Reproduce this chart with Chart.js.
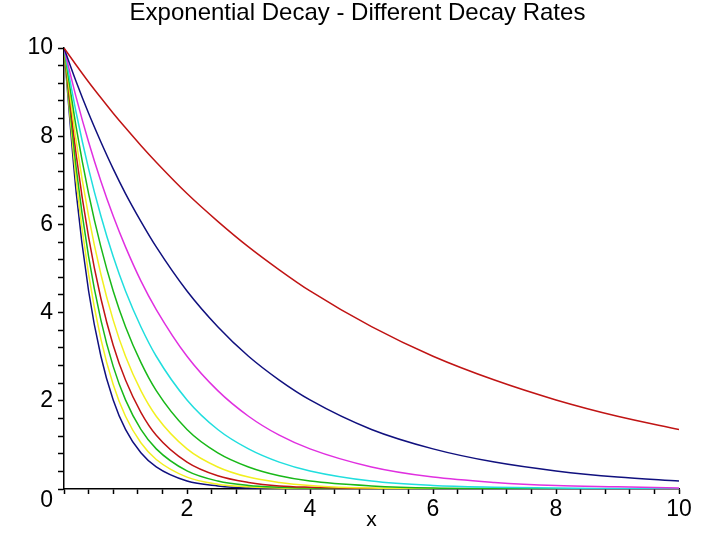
<!DOCTYPE html>
<html>
<head>
<meta charset="utf-8">
<title>Exponential Decay - Different Decay Rates</title>
<script src="https://cdn.jsdelivr.net/npm/chart.js@4/dist/chart.umd.min.js"></script>
<style>
  html, body { margin: 0; padding: 0; background: #fff; }
  #wrap { width: 720px; height: 534px; }
</style>
</head>
<body>
<div id="wrap"><canvas id="chart" width="720" height="534"></canvas></div>
<script>
const xValues = [0, 0.2, 0.4, 0.6, 0.8, 1, 1.25, 1.5, 2, 2.5, 3, 3.5, 4, 5, 6, 7, 8, 9, 10];

// one array per curve, slowest decay first
const rate02 = [10, 9.61, 9.23, 8.87, 8.52, 8.19, 7.79, 7.41, 6.70, 6.07, 5.49, 4.97, 4.49, 3.68, 3.01, 2.47, 2.02, 1.65, 1.35];
const rate04 = [10, 9.23, 8.52, 7.87, 7.26, 6.70, 6.07, 5.49, 4.49, 3.68, 3.01, 2.47, 2.02, 1.35, 0.91, 0.61, 0.41, 0.27, 0.18];
const rate06 = [10, 8.87, 7.87, 6.98, 6.19, 5.49, 4.72, 4.07, 3.01, 2.23, 1.65, 1.22, 0.91, 0.50, 0.27, 0.15, 0.08, 0.05, 0.02];
const rate08 = [10, 8.52, 7.26, 6.19, 5.27, 4.49, 3.68, 3.01, 2.02, 1.35, 0.91, 0.61, 0.41, 0.18, 0.08, 0.04, 0.02, 0.01, 0];
const rate10 = [10, 8.19, 6.70, 5.49, 4.49, 3.68, 2.87, 2.23, 1.35, 0.82, 0.50, 0.30, 0.18, 0.07, 0.02, 0.01, 0, 0, 0];
const rate12 = [10, 7.87, 6.19, 4.87, 3.83, 3.01, 2.23, 1.65, 0.91, 0.50, 0.27, 0.15, 0.08, 0.02, 0.01, 0, 0, 0, 0];
const rate14 = [10, 7.56, 5.71, 4.32, 3.26, 2.47, 1.74, 1.22, 0.61, 0.30, 0.15, 0.07, 0.04, 0.01, 0, 0, 0, 0, 0];
const rate16 = [10, 7.26, 5.27, 3.83, 2.78, 2.02, 1.35, 0.91, 0.41, 0.18, 0.08, 0.04, 0.02, 0, 0, 0, 0, 0, 0];
const rate18 = [10, 6.98, 4.87, 3.40, 2.37, 1.65, 1.05, 0.67, 0.27, 0.11, 0.05, 0.02, 0.01, 0, 0, 0, 0, 0, 0];
const rate20 = [10, 6.70, 4.49, 3.01, 2.02, 1.35, 0.82, 0.50, 0.18, 0.07, 0.02, 0.01, 0, 0, 0, 0, 0, 0, 0];

const seriesValues = [rate02, rate04, rate06, rate08, rate10, rate12, rate14, rate16, rate18, rate20];
const seriesColors = ["#c01414", "#10107e", "#e030e0", "#20dede", "#18b818", "#f2f020", "#c01414", "#18b818", "#f2f020", "#10107e"];

const yTickLabels = [0, 2, 4, 6, 8, 10];
const xTickLabels = [2, 4, 6, 8, 10];

const fontFamily = '"Liberation Sans", Arial, sans-serif';

function isLabel(value, list) {
  return list.some((v) => Math.abs(v - value) < 1e-6);
}

const ctx = document.getElementById("chart").getContext("2d");

new Chart(ctx, {
  type: "line",
  data: {
    datasets: seriesValues.map((values, i) => ({
      data: values.map((y, j) => ({ x: xValues[j], y: y })),
      borderColor: seriesColors[i],
      borderWidth: 1.5,
      pointRadius: 0,
      fill: false,
      cubicInterpolationMode: "monotone",
    })),
  },
  options: {
    responsive: false,
    animation: false,
    layout: { padding: { left: 18, right: 23, top: 0, bottom: 0 } },
    plugins: {
      legend: { display: false },
      tooltip: { enabled: false },
      title: {
        display: true,
        text: "Exponential Decay - Different Decay Rates",
        color: "#000",
        font: { family: fontFamily, size: 24, weight: "normal", lineHeight: 1 },
        padding: { top: 1, bottom: 23 },
      },
    },
    scales: {
      x: {
        type: "linear",
        min: 0,
        max: 10,
        afterFit: (scale) => { scale.height = 45; },
        border: { display: true, color: "#000", width: 1.5 },
        grid: { drawOnChartArea: false, drawTicks: true, tickLength: 5, tickColor: "#000", tickWidth: 1.5 },
        ticks: {
          stepSize: 0.4,
          autoSkip: false,
          maxTicksLimit: 100,
          maxRotation: 0,
          padding: 4,
          color: "#000",
          font: { family: fontFamily, size: 23, lineHeight: 1 },
          callback: (value) => (isLabel(value, xTickLabels) ? String(Math.round(value)) : ""),
        },
        title: {
          display: true,
          text: "x",
          color: "#000",
          font: { family: fontFamily, size: 21, lineHeight: 1 },
          padding: { top: 0, bottom: 3 },
        },
      },
      y: {
        type: "linear",
        min: 0,
        max: 10,
        afterFit: (scale) => { scale.width = 46; },
        border: { display: true, color: "#000", width: 1.5 },
        grid: { drawOnChartArea: false, drawTicks: true, tickLength: 6, tickColor: "#000", tickWidth: 1.5 },
        ticks: {
          stepSize: 0.4,
          autoSkip: false,
          maxTicksLimit: 100,
          padding: 5,
          color: "#000",
          font: { family: fontFamily, size: 23, lineHeight: 1 },
          callback: (value) => {
            if (!isLabel(value, yTickLabels)) return "";
            // the origin label sits a little below the axis, as in the picture
            return Math.abs(value) < 1e-6 ? ["", "0"] : String(Math.round(value));
          },
        },
      },
      // empty spacer on the right so the title centres like the original
      spacer: {
        type: "linear",
        position: "right",
        min: 0,
        max: 10,
        afterFit: (scale) => { scale.width = 18; },
        border: { display: false },
        grid: { display: false },
        ticks: { display: false },
      },
    },
  },
});
</script>
</body>
</html>
